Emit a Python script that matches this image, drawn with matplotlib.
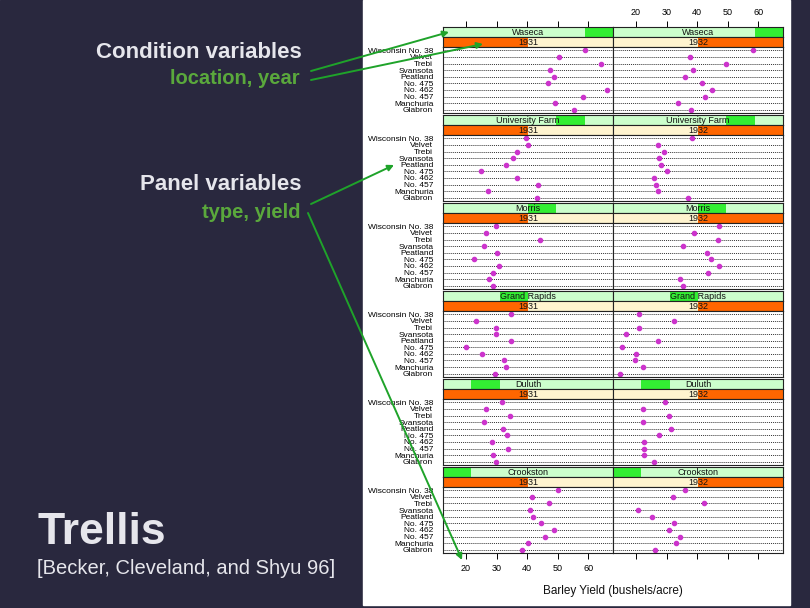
import matplotlib.pyplot as plt
from matplotlib.patches import Rectangle

plt.rcParams['font.family'] = ['Liberation Sans', 'DejaVu Sans']

# data (barley yield, bushels/acre)
varieties = ["Wisconsin No. 38", "Velvet", "Trebi", "Svansota", "Peatland",
             "No. 475", "No. 462", "No. 457", "Manchuria", "Glabron"]
sites = ["Waseca", "University Farm", "Morris", "Grand Rapids", "Duluth", "Crookston"]
site_levels = ["Crookston", "Duluth", "Grand Rapids", "Morris", "University Farm", "Waseca"]
years = ["1931", "1932"]

waseca_1931 = [59.1, 50.5, 64.1, 47.6, 48.9, 47.0, 66.0, 58.3, 49.2, 55.4]
waseca_1932 = [58.3, 37.6, 49.4, 38.7, 36.2, 41.5, 44.8, 42.5, 33.6, 37.9]
univ_1931 = [39.5, 40.2, 36.8, 35.4, 33.0, 25.0, 36.8, 43.5, 27.2, 43.3]
univ_1932 = [38.2, 27.1, 29.2, 27.6, 28.3, 30.2, 25.8, 26.5, 27.2, 37.0]
morris_1931 = [29.7, 26.4, 44.2, 26.0, 30.0, 22.8, 30.7, 28.9, 27.7, 28.9]
morris_1932 = [47.2, 39.1, 46.9, 35.3, 43.3, 44.4, 47.2, 43.6, 34.5, 35.4]
grand_1931 = [34.7, 23.3, 29.9, 29.9, 34.9, 19.9, 25.1, 32.4, 33.2, 29.5]
grand_1932 = [20.9, 32.4, 20.9, 16.8, 27.1, 15.4, 20.0, 19.6, 22.3, 14.7]
duluth_1931 = [31.9, 26.6, 34.3, 25.9, 32.2, 33.3, 28.4, 33.7, 29.0, 29.8]
duluth_1932 = [29.5, 22.4, 30.7, 22.3, 31.5, 27.5, 22.7, 22.7, 22.7, 26.0]
crook_1931 = [50.2, 41.6, 47.2, 40.8, 41.8, 44.4, 48.9, 45.9, 40.2, 38.3]
crook_1932 = [36.1, 32.2, 42.1, 20.8, 25.2, 32.4, 30.7, 34.5, 33.2, 26.2]

yield_1931 = [waseca_1931, univ_1931, morris_1931, grand_1931, duluth_1931, crook_1931]
yield_1932 = [waseca_1932, univ_1932, morris_1932, grand_1932, duluth_1932, crook_1932]
ticks = [20, 30, 40, 50, 60]

W, H = 810, 608


def box(x0, y0, x1, y1):
    return [x0 / W, 1 - y1 / H, (x1 - x0) / W, (y1 - y0) / H]


def clean(ax):
    ax.set_xticks([])
    ax.set_yticks([])
    for s in ax.spines.values():
        s.set_linewidth(0.8)
        s.set_color('#222222')


fig = plt.figure(figsize=(8.1, 6.08), dpi=100)

# slide background
bg = fig.add_axes([0, 0, 1, 1], zorder=-1)
bg.set_xlim(0, W)
bg.set_ylim(H, 0)
bg.axis('off')
bg.add_patch(Rectangle((0, 0), W, H, color='#29283e'))
bg.add_patch(Rectangle((363, 0), 427, 605, color='white'))

xlo, xhi = 12.5, 68.1

for k, site in enumerate(sites):
    top = 27 + 88 * k
    lev = site_levels.index(site)
    for j, yr in enumerate(years):
        x0 = 443 + 170 * j
        x1 = x0 + 170

        # location strip
        sa = fig.add_axes(box(x0, top, x1, top + 10))
        clean(sa)
        sa.set_facecolor('#ccffcc')
        sa.set_xlim(xlo, xhi)
        sa.set_ylim(0, 1)
        sa.add_patch(Rectangle((lev / 6, 0), 1 / 6, 1, transform=sa.transAxes,
                               color='#33ee33', lw=0))
        sa.text(0.5, 0.45, site, transform=sa.transAxes, ha='center', va='center',
                fontsize=6.5, color='#111111')
        if k == 0:
            sa.set_xticks(ticks)
            sa.tick_params(axis='x', top=True, bottom=False, labeltop=(j == 1),
                           labelbottom=False, length=4, width=0.7, pad=3,
                           labelsize=6.5, direction='out')

        # year strip
        ya = fig.add_axes(box(x0, top + 10, x1, top + 20))
        clean(ya)
        ya.set_facecolor('#fff4cf')
        ya.add_patch(Rectangle((0.5 * j, 0), 0.5, 1, transform=ya.transAxes,
                               color='#ff6600', lw=0))
        ya.text(0.5, 0.45, yr, transform=ya.transAxes, ha='center', va='center',
                fontsize=6.5, color='#111111')

        # dot panel
        ax = fig.add_axes(box(x0, top + 20, x1, top + 86))
        clean(ax)
        vals = yield_1931[k] if j == 0 else yield_1932[k]
        ys = [len(varieties) - i for i in range(len(varieties))]
        for y in ys:
            ax.axhline(y, color='#333333', ls=(0, (1, 1)), lw=0.7, zorder=1)
        ax.plot(vals, ys, 'o', color='#cc33cc', ms=3, zorder=2)
        ax.set_xlim(xlo, xhi)
        ax.set_ylim(0.5, 10.5)
        if j == 0:
            ax.set_yticks(ys, varieties)
            ax.tick_params(axis='y', length=0, pad=7, labelsize=6)
        if k == len(sites) - 1:
            ax.set_xticks(ticks)
            ax.tick_params(axis='x', bottom=True, labelbottom=(j == 0), length=4,
                           width=0.7, pad=4, labelsize=6.5, direction='out')

fig.text(613 / W, 1 - 591 / H, "Barley Yield (bushels/acre)", ha='center',
         va='center', fontsize=8.5, color='#111111')

# slide annotations
ov = fig.add_axes([0, 0, 1, 1], zorder=10)
ov.set_xlim(0, W)
ov.set_ylim(H, 0)
ov.axis('off')
ov.patch.set_alpha(0)

light = '#e6e6ec'
green_txt = '#5aa83c'
green_arrow = '#1fa32a'
ov.text(302, 52, "Condition variables", ha='right', va='center', fontsize=16,
        fontweight='bold', color=light)
ov.text(300, 79, "location, year", ha='right', va='center', fontsize=14.5,
        fontweight='bold', color=green_txt)
ov.text(302, 185, "Panel variables", ha='right', va='center', fontsize=16,
        fontweight='bold', color=light)
ov.text(300, 213, "type, yield", ha='right', va='center', fontsize=14.5,
        fontweight='bold', color=green_txt)
ov.text(37, 532, "Trellis", ha='left', va='center', fontsize=32,
        fontweight='bold', color=light)
ov.text(37, 569, "[Becker, Cleveland, and Shyu 96]", ha='left', va='center',
        fontsize=14.5, color=light)

arrows = [((311, 71), (449, 32)), ((311, 80), (483, 44)),
          ((311, 204), (394, 165)), ((308, 213), (462, 560))]
for start, end in arrows:
    ov.annotate('', xy=end, xytext=start,
                arrowprops=dict(arrowstyle='-|>', color=green_arrow, lw=1.4,
                                mutation_scale=9, shrinkA=0, shrinkB=0))

fig.savefig('out.png', dpi=100, facecolor=fig.get_facecolor())
